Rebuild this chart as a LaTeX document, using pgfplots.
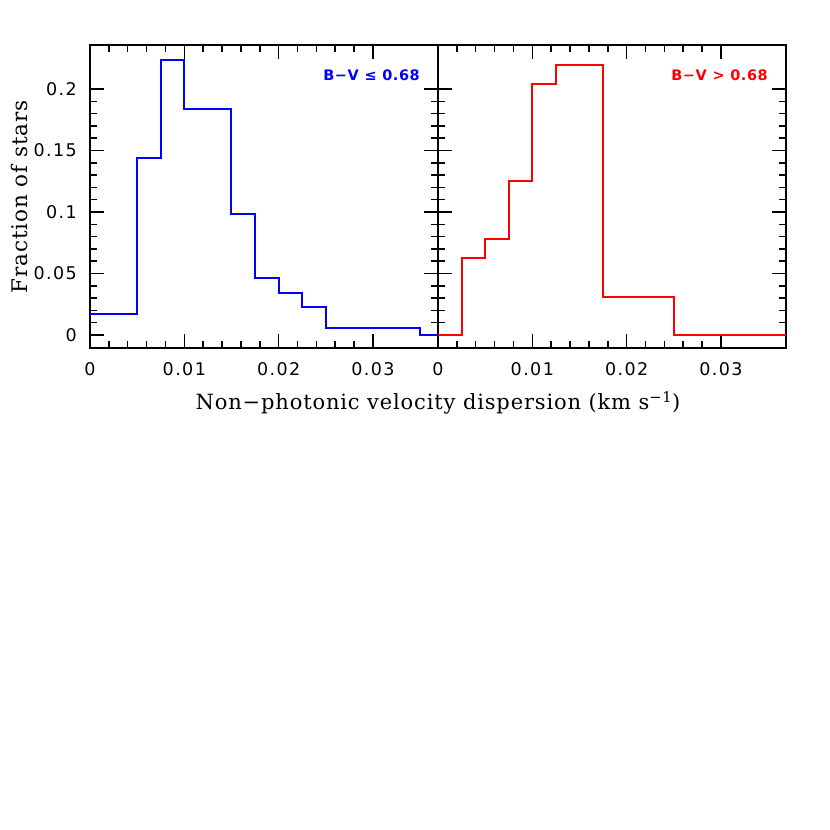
\documentclass[border=0pt]{standalone}
\usepackage{fontspec}
\setmainfont{DejaVu Serif}
\newfontfamily\labserif{DejaVu Serif}[LetterSpace=4]
\newfontfamily\ticksf{DejaVu Sans}[LetterSpace=8]
\newfontfamily\labsf{DejaVu Sans Bold}[LetterSpace=4]
\usepackage{pgfplots}
\pgfplotsset{compat=1.18}
\begin{document}
\begin{tikzpicture}
\path[use as bounding box] (0,0) rectangle (830bp,830bp);
\pgfplotsset{panel/.style={
  scale only axis, width=348bp, height=303bp,
  xmin=0, xmax=0.0369, ymin=-0.0106, ymax=0.2358,
  axis line style={line width=2bp},
  tick align=inside, tick style={black, line width=1.5bp},
  major tick length=14bp, minor tick length=7bp,
  xtick={0,0.01,0.02,0.03}, xticklabels={0,0.01,0.02,0.03},
  ytick={0,0.05,0.1,0.15,0.2},
  minor x tick num=4, minor y tick num=4,
  xticklabel style={font=\ticksf\fontsize{17.5bp}{20bp}\selectfont, inner sep=0pt, anchor=north, yshift=-14bp},
  yticklabel style={font=\ticksf\fontsize{17.5bp}{20bp}\selectfont, inner sep=0pt, anchor=east, xshift=-13bp},
  scaled ticks=false,
  clip=true,
}}
\begin{axis}[panel, at={(90bp,482bp)}, anchor=south west,
  yticklabels={0,0.05,0.1,0.15,0.2}]
\addplot[const plot, blue, line width=2bp] coordinates {
(0,0.017)(0.005,0.144)(0.0075,0.224)(0.01,0.184)(0.015,0.098)(0.0175,0.046)
(0.02,0.0344)(0.0225,0.023)(0.025,0.0057)(0.035,0)(0.0369,0)};
\node[anchor=east, text=blue, font=\labsf\fontsize{14.5bp}{16bp}\selectfont, inner sep=0pt] at (rel axis cs:1,0.901) [xshift=-18bp] {B−V ≤ 0.68};
\end{axis}
\begin{axis}[panel, at={(438bp,482bp)}, anchor=south west,
  yticklabels={}]
\addplot[const plot, red, line width=2bp] coordinates {
(0,0)(0.0025,0.0623)(0.005,0.078)(0.0075,0.125)(0.01,0.2038)(0.0125,0.2195)
(0.0175,0.0312)(0.025,0)(0.0369,0)};
\node[anchor=east, text=red, font=\labsf\fontsize{14.5bp}{16bp}\selectfont, inner sep=0pt] at (rel axis cs:1,0.901) [xshift=-18bp] {B−V > 0.68};
\end{axis}
\node[anchor=base, inner sep=0pt, font=\labserif\fontsize{21bp}{24bp}\selectfont] at (438bp,420bp) {Non−photonic velocity dispersion (km s\textsuperscript{−1})};
\node[anchor=base, rotate=90, inner sep=0pt, font=\labserif\fontsize{21.5bp}{24bp}\selectfont] at (27bp,633bp) {Fraction of stars};
\end{tikzpicture}
\end{document}
